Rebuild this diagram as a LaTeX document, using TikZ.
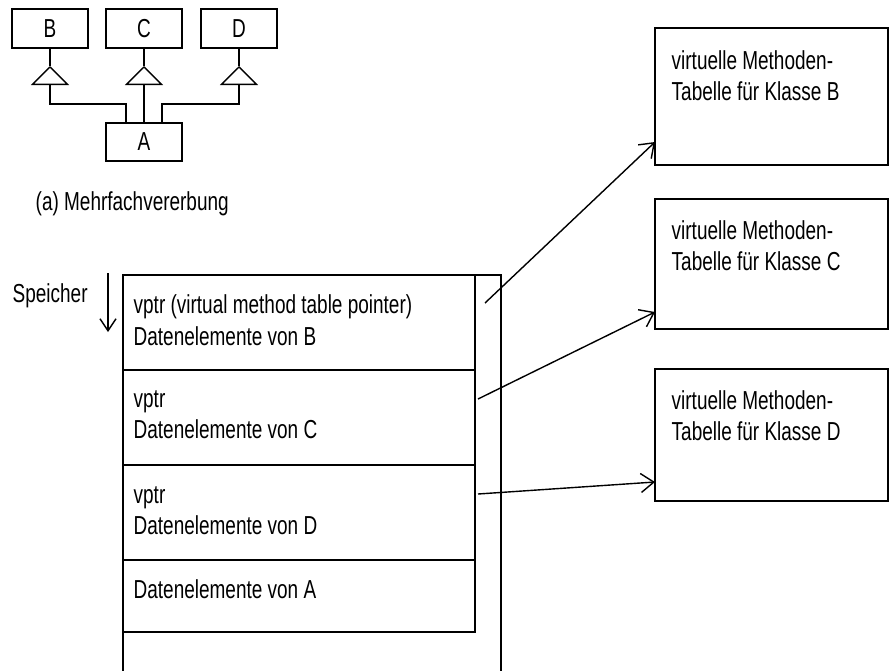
\documentclass[tikz,border=0pt]{standalone}
\usepackage{fontspec}
\setmainfont{Liberation Sans}[FakeStretch=0.73]
\usetikzlibrary{arrows.meta}
\begin{document}
\begin{tikzpicture}[x=1pt,y=-1pt,line width=1.4pt,
  every node/.style={font=\fontsize{26}{31}\selectfont},
  box/.style={draw,rectangle,inner sep=0pt,outer sep=0pt,minimum width=#1},
  txt/.style={anchor=base west,inner sep=0pt},
  inh/.style={-{Triangle[open,length=19pt,width=38pt]},line join=miter},
  ptr/.style={-{Straight Barb[length=13pt,width=19pt]}},
  memarrow/.style={-{Straight Barb[length=12pt,width=16pt]}}]
\useasboundingbox (0,0) rectangle (890,670);
\clip (0,0) rectangle (890,670);
% class diagram
\node[box=76,minimum height=39] (B) at (50,28.5) {B};
\node[box=76,minimum height=39] (C) at (144,28.5) {C};
\node[box=76,minimum height=39] (D) at (239,28.5) {D};
\node[box=76,minimum height=38] (A) at (144,142) {A};
\coordinate (tB) at (50,66);
\coordinate (tC) at (144,66);
\coordinate (tD) at (239,66);
\draw[inh] ([xshift=-18pt]A.north) -- ++(0,-19) -| (tB);
\draw[inh] (A.north) -- (tC);
\draw[inh] ([xshift=18pt]A.north) -- ++(0,-19) -| (tD);
\draw (tB) -- (B.south);
\draw (tC) -- (C.south);
\draw (tD) -- (D.south);
\node[txt] (cap) at (35,210) {(a) Mehrfachvererbung};
% memory
\node[txt] (speicher) at (12,302) {Speicher};
\coordinate (s1) at (108,273);
\coordinate (s2) at (108,332);
\draw[memarrow] (s1) -- (s2);
\node[box=378,minimum height=440,anchor=north west] (mem) at (123,275) {};
\node[box=352,minimum height=95,anchor=north west] (secB) at (123,275) {};
\node[box=352,minimum height=95,anchor=north west] (secC) at (123,370) {};
\node[box=352,minimum height=95,anchor=north west] (secD) at (123,465) {};
\node[box=352,minimum height=72,anchor=north west] (secA) at (123,560) {};
\node[txt] (tb1) at (133,313) {vptr (virtual method table pointer)};
\node[txt] (tb2) at (133,345) {Datenelemente von B};
\node[txt] (tc1) at (133,407) {vptr};
\node[txt] (tc2) at (133,438) {Datenelemente von C};
\node[txt] (td1) at (133,503) {vptr};
\node[txt] (td2) at (133,534) {Datenelemente von D};
\node[txt] (ta1) at (133,598) {Datenelemente von A};
% tables
\node[box=233,minimum height=137,anchor=north west] (tabB) at (655,28) {};
\node[box=233,minimum height=130,anchor=north west] (tabC) at (655,199) {};
\node[box=233,minimum height=132,anchor=north west] (tabD) at (655,369) {};
\node[txt] at (671,69) {virtuelle Methoden-};
\node[txt] at (671,100) {Tabelle für Klasse B};
\node[txt] at (671,239) {virtuelle Methoden-};
\node[txt] at (671,270) {Tabelle für Klasse C};
\node[txt] at (671,409) {virtuelle Methoden-};
\node[txt] at (671,440) {Tabelle für Klasse D};
% pointers
\coordinate (pB) at (485,303);
\coordinate (pC) at (478,399);
\coordinate (pD) at (478,494);
\coordinate (eB) at (655,142);
\coordinate (eC) at (655,312);
\coordinate (eD) at (655,482);
\draw[ptr] (pB) -- (eB);
\draw[ptr] (pC) -- (eC);
\draw[ptr] (pD) -- (eD);
\end{tikzpicture}
\end{document}
